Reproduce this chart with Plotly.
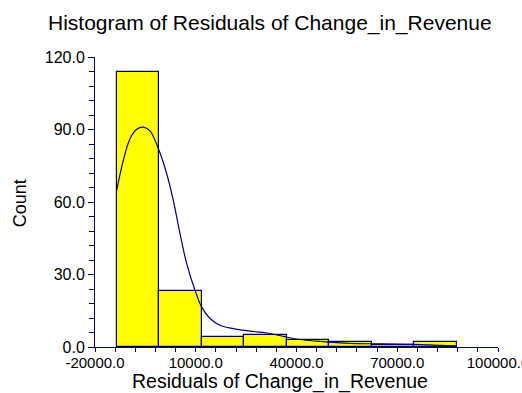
import numpy as np
import plotly.graph_objects as go

# Histogram of residuals: bin edges and counts
bin_edges = [-13540, -885, 11770, 24425, 37080, 49735, 62390, 75045, 87700]
counts = [114, 23, 4, 5, 3, 2, 1, 2]

# Density curve (scaled to counts)
curve_x = [-13538, -11573, -9578, -7583, -5618, -3623, -1151, 1350, 3315, 5310,
           7306, 9777, 11772, 14244, 17221, 21182, 26154, 31127, 36070, 41043,
           46016, 50959, 55931, 64864, 74989, 82730, 87703]
curve_y = [64.8, 77.2, 86.2, 90.1, 91.0, 89.4, 82.1, 71.7, 60.7, 46.9,
           34.5, 23.5, 16.5, 11.8, 9.0, 7.6, 6.6, 5.8, 4.4, 3.1,
           2.4, 1.9, 1.5, 1.3, 1.1, 0.7, 0.5]

x_tickvals = [-20000, 10000, 40000, 70000, 100000]
x_ticktext = ["-20000.0", "10000.0", "40000.0", "70000.0", "100000.0"]
y_tickvals = [0, 30, 60, 90, 120]
y_ticktext = ["0.0", "30.0", "60.0", "90.0", "120.0"]

edges = np.array(bin_edges, dtype=float)
centers = (edges[:-1] + edges[1:]) / 2
widths = np.diff(edges)

NAVY = "#000080"
FONT = "Liberation Sans, Arial, sans-serif"

fig = go.Figure()
fig.add_trace(go.Bar(
    x=centers, y=counts, width=widths,
    marker=dict(color="#FFFF00", line=dict(color="#00005A", width=1.2)),
    hoverinfo="skip",
))
fig.add_trace(go.Scatter(
    x=curve_x, y=curve_y, mode="lines",
    line=dict(color=NAVY, width=1.2, shape="spline"),
    hoverinfo="skip",
))

fig.update_layout(
    width=522, height=393,
    margin=dict(l=95, r=24, t=57, b=46),
    paper_bgcolor="white", plot_bgcolor="white",
    showlegend=False,
    font=dict(family=FONT, color="black"),
    bargap=0,
    annotations=[
        dict(text="Histogram of Residuals of Change_in_Revenue", xref="paper", yref="paper",
             x=0.434, y=1.118, xanchor="center", yanchor="middle", showarrow=False,
             font=dict(size=21, family=FONT, color="black")),
        dict(text="Residuals of Change_in_Revenue", xref="paper", yref="paper",
             x=0.459, y=-0.118, xanchor="center", yanchor="middle", showarrow=False,
             font=dict(size=19.5, family=FONT, color="black")),
        dict(text="Count", xref="paper", yref="paper", textangle=-90,
             x=-0.186, y=0.496, xanchor="center", yanchor="middle", showarrow=False,
             font=dict(size=18, family=FONT, color="black")),
    ],
)

fig.update_xaxes(
    range=[-20000, 100000], showgrid=False, zeroline=False, automargin=False,
    showline=True, linecolor=NAVY, linewidth=1,
    ticks="outside", ticklen=4, tickcolor=NAVY, tickwidth=1,
    tickvals=x_tickvals, ticktext=x_ticktext, ticklabeloverflow="allow",
    ticklabelstandoff=-2,
    tickfont=dict(size=15, family=FONT, color="black"),
    minor=dict(dtick=6000, tick0=-20000, ticks="outside", ticklen=4,
               tickcolor=NAVY, tickwidth=1, showgrid=False),
)
fig.update_yaxes(
    range=[0, 120], showgrid=False, zeroline=False, automargin=False,
    showline=True, linecolor=NAVY, linewidth=1,
    ticks="outside", ticklen=6, tickcolor=NAVY, tickwidth=1,
    tickvals=y_tickvals, ticktext=y_ticktext,
    tickfont=dict(size=16, family=FONT, color="black"),
    minor=dict(dtick=6, tick0=0, ticks="outside", ticklen=5,
               tickcolor=NAVY, tickwidth=1, showgrid=False),
)

fig.write_html("out.html")
